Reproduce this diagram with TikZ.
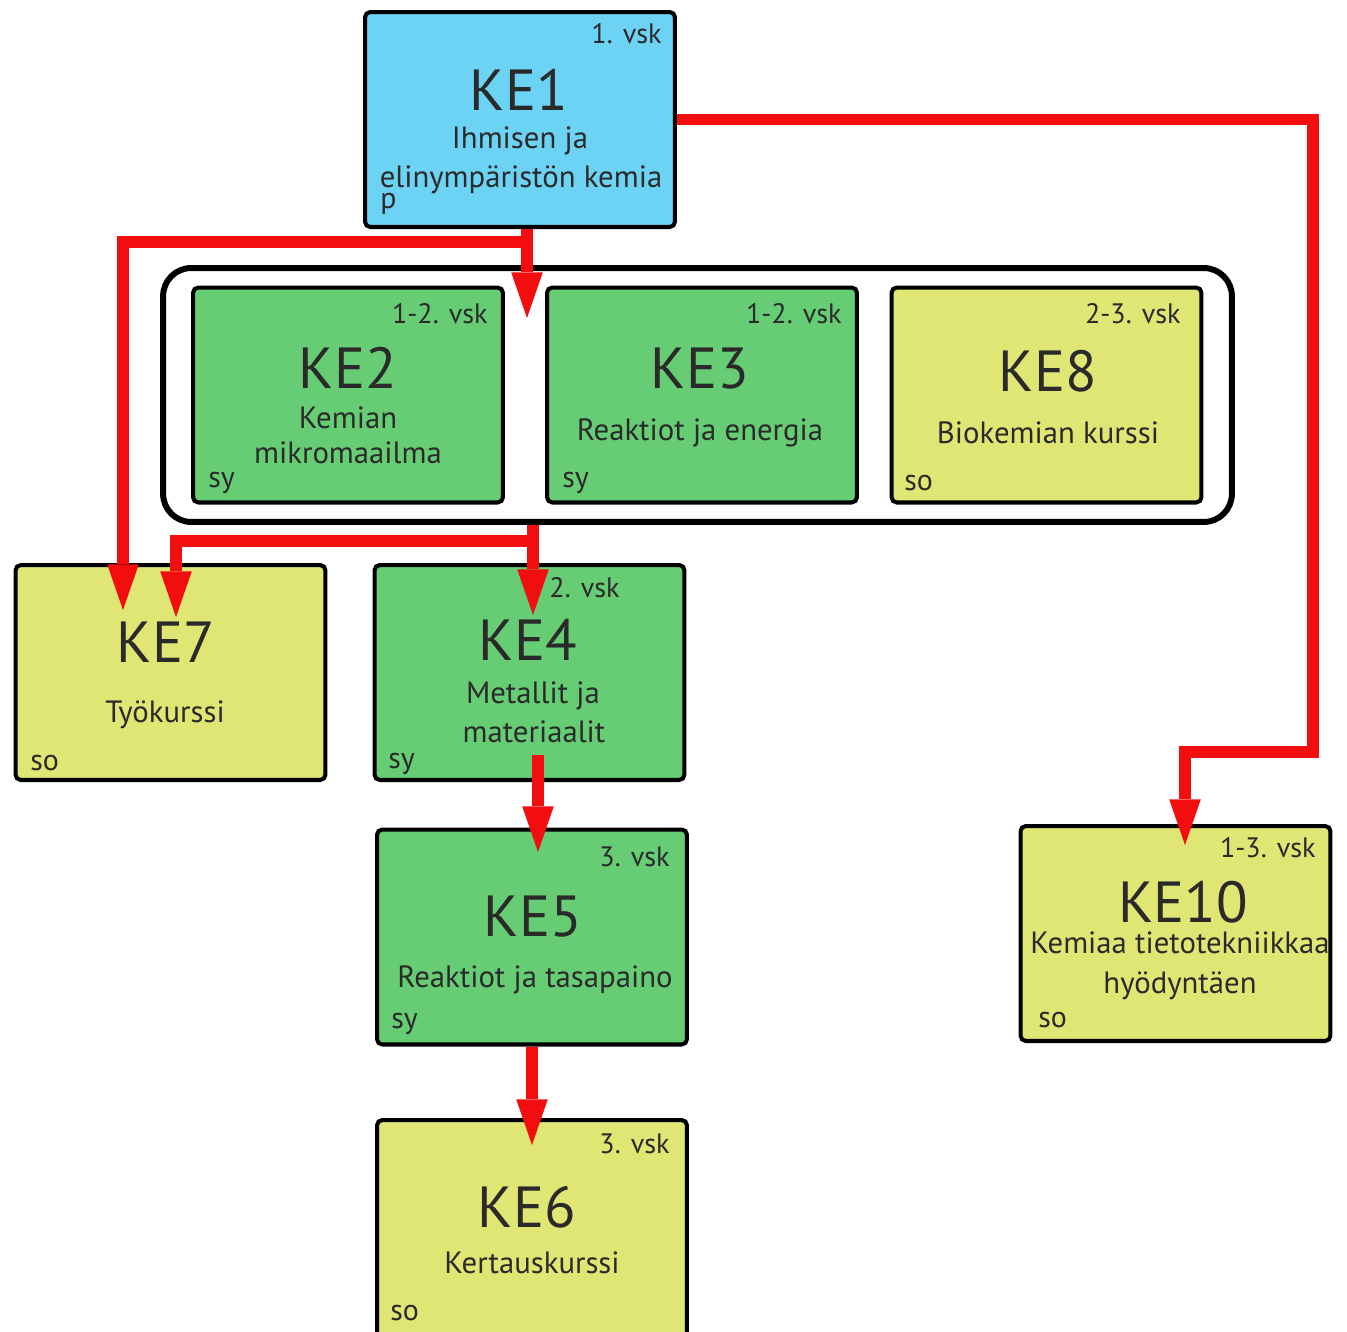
\documentclass[tikz,border=0pt]{standalone}
\usepackage{fontspec}
\setmainfont{PT Sans}
\usetikzlibrary{arrows.meta,calc}
\definecolor{kblue}{HTML}{6DD3F4}
\definecolor{kgreen}{HTML}{66CD75}
\definecolor{kyellow}{HTML}{E0E673}
\definecolor{kred}{HTML}{F20E0E}
\definecolor{ktext}{HTML}{2A2A2A}
\begin{document}
\begin{tikzpicture}[x=0.02cm,y=-0.02cm,
 box/.style={draw=black,line width=2.3pt,rounded corners=3pt,minimum width=6.2cm,minimum height=4.3cm,inner sep=0pt},
 grp/.style={draw=black,line width=3.4pt,rounded corners=16pt,minimum width=21.38cm,minimum height=5.08cm,inner sep=0pt},
 ttl/.style={anchor=base,font=\fontsize{33}{38}\selectfont,text=ktext,inner sep=0pt},
 sub/.style={anchor=base,font=\fontsize{17.5}{20}\selectfont,text=ktext,inner sep=0pt},
 yr/.style={anchor=base east,font=\fontsize{16}{19}\selectfont,text=ktext,inner sep=0pt},
 tag/.style={anchor=base west,font=\fontsize{17}{20}\selectfont,text=ktext,inner sep=0pt},
 conn/.style={draw=kred,line width=6.8pt},
 arr/.style={conn,-{Triangle[width=18pt,length=26pt,line width=0pt]}},
]
\useasboundingbox[fill=white] (0,0) rectangle (1347,1332);
% boxes
\node[box,fill=kblue] (ke1) at (520,119.5) {};
\node[grp] (grp) at (697.5,395) {};
\node[box,fill=kgreen] (ke2) at (348,395) {};
\node[box,fill=kgreen] (ke3) at (702,395) {};
\node[box,fill=kyellow] (ke8) at (1046.5,395) {};
\node[box,fill=kyellow] (ke7) at (170.5,672.5) {};
\node[box,fill=kgreen] (ke4) at (529.5,672.5) {};
\node[box,fill=kgreen] (ke5) at (532,937) {};
\node[box,fill=kyellow,minimum height=4.6cm] (ke6) at (532,1235) {};
\node[box,fill=kyellow] (ke10) at (1175.5,933.5) {};
% texts KE1
\node[yr] (ke1y) at (662,43) {1. vsk};
\node[ttl] (ke1t) at (519,110) {KE1};
\node[sub] (ke1a) at (520,148) {Ihmisen ja};
\node[sub] (ke1b) at (521,187) {elinympäristön kemia};
\node[tag] (ke1p) at (380,208) {p};
% KE2
\node[yr] (ke2y) at (488,323) {1-2. vsk};
\node[ttl] (ke2t) at (348,388) {KE2};
\node[sub] (ke2a) at (348,428) {Kemian};
\node[sub] (ke2b) at (348,463) {mikromaailma};
\node[tag] (ke2s) at (208,487) {sy};
% KE3
\node[yr] (ke3y) at (842,323) {1-2. vsk};
\node[ttl] (ke3t) at (700,388) {KE3};
\node[sub] (ke3a) at (700,440) {Reaktiot ja energia};
\node[tag] (ke3s) at (562,487) {sy};
% KE8
\node[yr] (ke8y) at (1181,323) {2-3. vsk};
\node[ttl] (ke8t) at (1048,391) {KE8};
\node[sub] (ke8a) at (1048,443) {Biokemian kurssi};
\node[tag] (ke8s) at (904,490) {so};
% KE7
\node[ttl] (ke7t) at (166,662) {KE7};
\node[sub] (ke7a) at (165,722) {Työkurssi};
\node[tag] (ke7s) at (30,770) {so};
% KE4
\node[yr] (ke4y) at (620,597) {2. vsk};
\node[ttl] (ke4t) at (528,660) {KE4};
\node[sub] (ke4a) at (533,703) {Metallit ja};
\node[sub] (ke4b) at (534,742) {materiaalit};
\node[tag] (ke4s) at (388,768) {sy};
% KE5
\node[yr] (ke5y) at (670,866) {3. vsk};
\node[ttl] (ke5t) at (533,936) {KE5};
\node[sub] (ke5a) at (535,987) {Reaktiot ja tasapaino};
\node[tag] (ke5s) at (391,1028) {sy};
% KE6
\node[yr] (ke6y) at (670,1153) {3. vsk};
\node[ttl] (ke6t) at (527,1227) {KE6};
\node[sub] (ke6a) at (532,1273) {Kertauskurssi};
\node[tag] (ke6s) at (390,1320) {so};
% KE10
\node[yr] (ke10y) at (1316,857) {1-3. vsk};
\node[ttl] (ke10t) at (1183,922) {KE10};
\node[sub] (ke10a) at (1180,953) {Kemiaa tietotekniikkaa};
\node[sub] (ke10b) at (1180,993) {hyödyntäen};
\node[tag] (ke10s) at (1038,1027) {so};
% connector ends
\coordinate (t1) at (527,318);
\coordinate (t2) at (123,610);
\coordinate (c3) at (1313,752);
\coordinate (t3) at (1185,845);
\coordinate (t4) at (533,615);
\coordinate (t5) at (176,617);
\coordinate (s6) at (538,755);
\coordinate (t6) at (538,852);
\coordinate (t7) at (532,1145);
% connectors
\draw[arr] (ke1.south -| t1) -- (t1);
\draw[arr] (ke1.south -| t1) -- ++(0,13) -| (t2);
\draw[arr] (ke1.east) -| (c3) -| (t3);
\draw[arr] (grp.south -| t4) -- (t4);
\draw[arr] (grp.south -| t4) -- ++(0,16) -| (t5);
\draw[arr] (s6) -- (t6);
\draw[arr] (ke5.south -| t7) -- (t7);
\end{tikzpicture}
\end{document}
